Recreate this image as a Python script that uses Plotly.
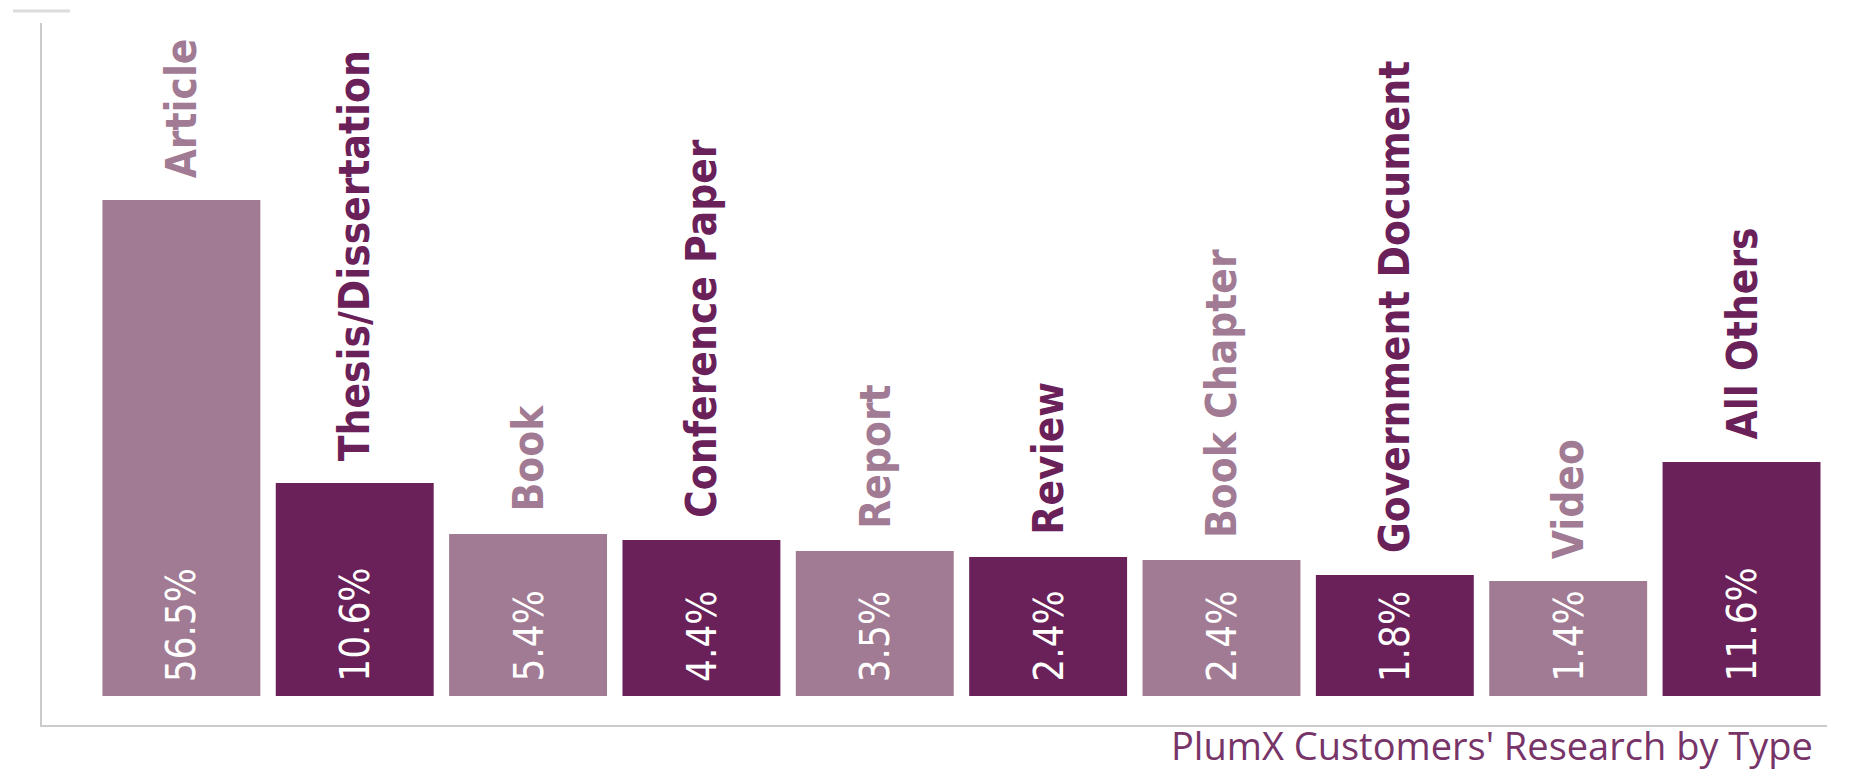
import plotly.graph_objects as go

# ---- data ----
categories = ["Article", "Thesis/Dissertation", "Book", "Conference Paper", "Report",
              "Review", "Book Chapter", "Government Document", "Video", "All Others"]
percent_labels = ["56.5%", "10.6%", "5.4%", "4.4%", "3.5%", "2.4%", "2.4%", "1.8%", "1.4%", "11.6%"]
# drawn bar heights (infographic, not to scale with the percentages)
bar_heights = [496, 213, 162, 156, 145, 139, 136, 121, 115, 234]
tone = ["light", "dark", "light", "dark", "light", "dark", "light", "dark", "light", "dark"]
caption = "PlumX Customers' Research by Type"

LIGHT = "#a17a93"
DARK = "#6a2058"
AXIS = "#cbcbcb"
colors = [LIGHT if t == "light" else DARK for t in tone]

LABEL_FONT = "Liberation Sans Narrow, DejaVu Sans Condensed, Arial Narrow, sans-serif"

# the page body has an 8px default margin, so the figure is 8px smaller
W, H = 1843, 763
ML, MR, MT, MB = 34, 24, 15, 46
pw, ph = W - ML - MR, H - MT - MB


def px(page_x):
    return (page_x - 8 - ML) / pw


def py(page_y):
    return (H - MB - (page_y - 8)) / ph


fig = go.Figure()
fig.add_trace(go.Bar(
    x=categories, y=bar_heights,
    marker=dict(color=colors, line=dict(width=0)),
    hoverinfo="skip",
))

annotations = []
for cat, h, pct, c in zip(categories, bar_heights, percent_labels, colors):
    annotations.append(dict(
        x=cat, y=h, xref="x", yref="y", text=f"<b>{cat}</b>", showarrow=False,
        textangle=-90, xanchor="center", yanchor="bottom", yshift=20,
        font=dict(family=LABEL_FONT, size=42, color=c),
    ))
    annotations.append(dict(
        x=cat, y=0, xref="x", yref="y", text=pct, showarrow=False,
        textangle=-90, xanchor="center", yanchor="bottom", yshift=12,
        font=dict(family=LABEL_FONT, size=40, color="white"),
    ))
annotations.append(dict(
    x=px(1815), y=py(745), xref="paper", yref="paper", text=caption, showarrow=False,
    xanchor="right", yanchor="middle",
    font=dict(family="Open Sans, sans-serif", size=38, color="#773468"),
))

shapes = [
    dict(type="line", xref="paper", yref="paper", x0=px(13), x1=px(70), y0=py(11), y1=py(11),
         line=dict(color="#dcdcdc", width=3)),
    dict(type="line", xref="paper", yref="paper", x0=px(1849), x1=px(1849), y0=py(702), y1=py(743),
         line=dict(color="#d0d0d0", width=2)),
]

fig.update_layout(
    width=W, height=H,
    margin=dict(l=ML, r=MR, t=MT, b=MB, pad=0),
    paper_bgcolor="white", plot_bgcolor="white",
    showlegend=False, bargap=0.089,
    annotations=annotations, shapes=shapes,
    xaxis=dict(type="category", range=[-0.804, 9.493], showticklabels=False, ticks="",
               showgrid=False, zeroline=False, showline=True, linecolor=AXIS, linewidth=2,
               fixedrange=True),
    yaxis=dict(range=[-29, 673], showticklabels=False, ticks="", showgrid=False,
               zeroline=False, showline=True, linecolor=AXIS, linewidth=2, fixedrange=True),
)

fig.write_html("out.html", config={"displayModeBar": False})
